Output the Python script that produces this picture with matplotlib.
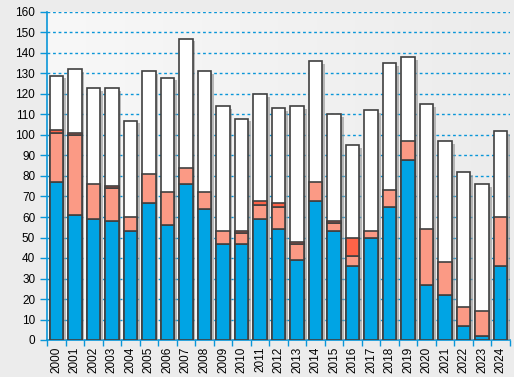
import matplotlib.pyplot as plt
import matplotlib.patheffects as pe
import numpy as np

plt.rcParams['font.family'] = ['Liberation Sans', 'DejaVu Sans']

years = [str(y) for y in range(2000, 2025)]
blue = [77, 61, 59, 58, 53, 67, 56, 76, 64, 46.7, 46.7, 59, 54, 39, 67.7, 53, 36, 49.6, 64.7, 88, 26.7, 22, 6.7, 1.8, 36]
salmon = [24, 39, 17, 16, 7, 14, 16, 8, 8, 6.3, 5.5, 6.7, 10.7, 7.7, 9.3, 4, 4.8, 3.4, 8.3, 9, 27.3, 16, 9.3, 12.2, 24]
red = [1.5, 1, 0, 1, 0, 0, 0, 0, 0, 0, 0.8, 2, 2, 1.1, 0, 1, 8.8, 0, 0, 0, 0, 0, 0, 0, 0]
total = [129, 132, 123, 123, 107, 131, 128, 147, 131, 114, 108, 120, 113, 114, 136, 110, 95, 112, 135, 138, 115, 97, 82, 76, 102]

x = np.arange(len(years))
blue = np.array(blue)
salmon = np.array(salmon)
red = np.array(red)

fig = plt.figure(figsize=(5.14, 3.77), dpi=100, facecolor='#ececec')
ax = fig.add_axes([47/514, 37/377, 463/514, 328/377])

# gradient background of the plot area
grad = np.linspace(0, 1, 256).reshape(1, -1)
ax.imshow(grad, extent=[-0.5, 24.5, 0, 160], aspect='auto',
          cmap=plt.cm.colors.LinearSegmentedColormap.from_list('bg', ['#f8f8f8', '#ececec']), zorder=0)

for v in range(10, 170, 10):
    ax.axhline(v, color='#0a96d8', lw=1, ls=(0, (2, 2)), zorder=1)

w = 0.73
ec = '#404040'
ax.bar(x, total, w, color='white', edgecolor=ec, lw=1.2, zorder=3,
       path_effects=[pe.SimplePatchShadow(offset=(2, -2), shadow_rgbFace='#909090', alpha=0.6), pe.Normal()])
ax.bar(x, blue, w, color='#00a4e4', edgecolor=ec, lw=1.2, zorder=4)
ax.bar(x, salmon, w, bottom=blue, color='#fb9a85', edgecolor=ec, lw=1.2, zorder=4)
m = red > 0
ax.bar(x[m], red[m], w, bottom=(blue + salmon)[m], color='#ff6347', edgecolor=ec, lw=1.2, zorder=4)

ax.set_xlim(-0.5, 24.5)
ax.set_ylim(0, 160)
ax.set_yticks(range(0, 170, 10))
ax.set_xticks(x)
ax.set_xticklabels(years, rotation=90)
ax.set_xticks(np.arange(-0.5, 25, 1), minor=True)
ax.tick_params(axis='x', which='major', length=0, labelsize=8.5, pad=5)
ax.tick_params(axis='x', which='minor', length=4, color='#0a96d8', width=1)
ax.tick_params(axis='y', length=5, color='#0a96d8', width=1, labelsize=8.5)

for s in ['top', 'right']:
    ax.spines[s].set_visible(False)
for s in ['left', 'bottom']:
    ax.spines[s].set_color('#0a96d8')
    ax.spines[s].set_linewidth(1.2)

fig.savefig('out.png', dpi=100, facecolor=fig.get_facecolor())
